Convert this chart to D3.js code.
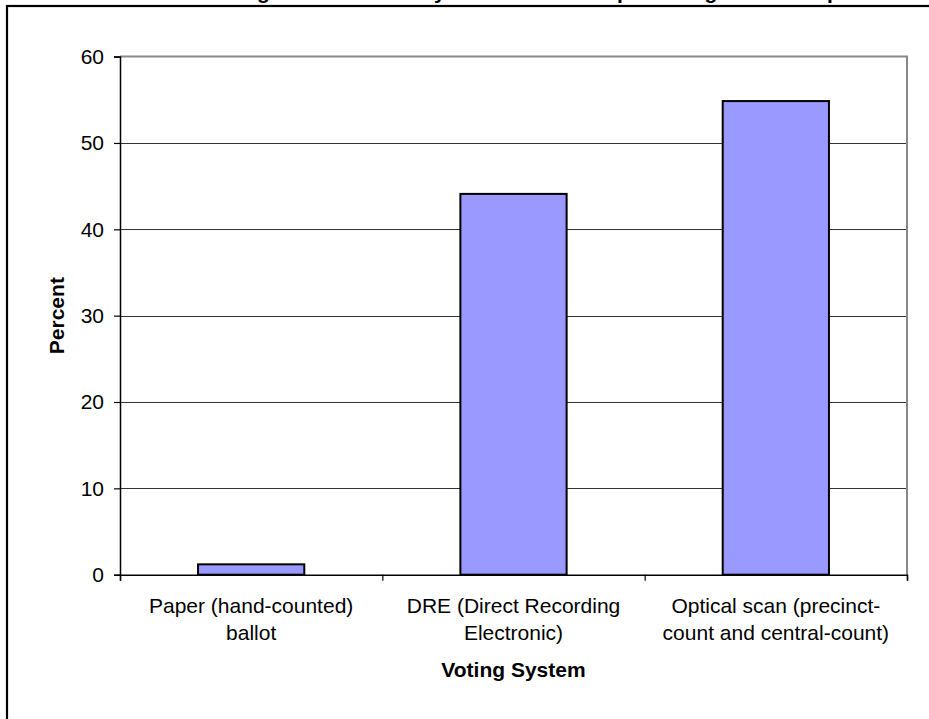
<!DOCTYPE html>
<html>
<head>
<meta charset="utf-8">
<script src="https://cdn.jsdelivr.net/npm/d3@7"></script>
<style>
  html, body { margin: 0; padding: 0; background: #fff; }
  svg { display: block; font-family: Arial, "Liberation Sans", sans-serif; }
</style>
</head>
<body>
<svg id="chart" width="929" height="719"></svg>
<script>
// Share of voting systems in use, in percent
const categories = ["paper", "dre", "optical"];
const categoryLines = [
  ["Paper (hand-counted)", "ballot"],
  ["DRE (Direct Recording", "Electronic)"],
  ["Optical scan (precinct-", "count and central-count)"]
];
const percentValues = [1.2, 44.1, 54.85];
const yTickValues = [0, 10, 20, 30, 40, 50, 60];

// Title pieces; each piece starts at its own anchor so the line is spaced evenly
const titleParts = ["Chart 3. Voting Tools Used", " by Counties as a", " percentage of all the precincts"];
const titleAnchorChar = ["g", "y", "p"];
const titleAnchorX = [257, 434, 617];
const titleSize = 21;

const yAxisTitle = "Percent";
const xAxisTitle = "Voting System";

const svg = d3.select("#chart");
const width = 929, height = 719;
const plot = { left: 120, right: 907, top: 56.6, bottom: 574.7 };
const fontSize = 21;

svg.append("rect").attr("width", width).attr("height", height).attr("fill", "#fff");

// Chart title, set above the frame so only its lowest strokes show
const title = svg.append("text")
  .attr("y", -0.6)
  .attr("font-size", titleSize)
  .attr("font-weight", "bold")
  .attr("fill", "#000");
const measure = svg.append("text")
  .attr("font-size", titleSize).attr("font-weight", "bold").attr("visibility", "hidden");
titleParts.forEach((part, i) => {
  const k = part.indexOf(titleAnchorChar[i]);
  measure.text(part.slice(0, k).replace(/ /g, "\u00a0"));
  const w = k > 0 ? measure.node().getComputedTextLength() : 0;
  title.append("tspan").attr("x", titleAnchorX[i] - w).text(part);
});
measure.remove();

// Outer frame of the chart area
svg.append("rect")
  .attr("x", 7).attr("y", 6)
  .attr("width", 1000).attr("height", 1000)
  .attr("fill", "none").attr("stroke", "#000").attr("stroke-width", 2.2);

const y = d3.scaleLinear().domain([0, 60]).range([plot.bottom, plot.top]);
const x = d3.scaleBand().domain(categories)
  .range([plot.left, plot.right])
  .paddingInner(0.595).paddingOuter(0.2975);
const xEdges = d3.scaleLinear().domain([0, categories.length]).range([plot.left, plot.right]);

// Horizontal gridlines
svg.append("g")
  .selectAll("line")
  .data(yTickValues.filter(v => v > 0 && v < 60))
  .join("line")
  .attr("x1", plot.left).attr("x2", plot.right)
  .attr("y1", d => Math.round(y(d)) + 0.5).attr("y2", d => Math.round(y(d)) + 0.5)
  .attr("stroke", "#333").attr("stroke-width", 1);

// Plot area border (top and right)
svg.append("path")
  .attr("d", `M${plot.left},${y(60)}H${plot.right}V${plot.bottom}`)
  .attr("fill", "none").attr("stroke", "#888").attr("stroke-width", 2);

// Bars
svg.append("g")
  .selectAll("rect")
  .data(categories)
  .join("rect")
  .attr("x", d => x(d))
  .attr("width", x.bandwidth())
  .attr("y", (d, i) => y(percentValues[i]))
  .attr("height", (d, i) => y(0) - y(percentValues[i]))
  .attr("fill", "#9999FF")
  .attr("stroke", "#000").attr("stroke-width", 2);

// Y axis
const yAxis = svg.append("g")
  .attr("transform", `translate(${plot.left},0)`)
  .call(d3.axisLeft(y).tickValues(yTickValues).tickSize(6).tickPadding(10).tickFormat(d3.format("d")));
yAxis.select(".domain").attr("stroke", "#000").attr("stroke-width", 1.5);
yAxis.selectAll(".tick line").attr("stroke", "#000").attr("stroke-width", 1.2);
yAxis.selectAll(".tick text")
  .attr("font-size", fontSize).attr("font-family", "Arial, 'Liberation Sans', sans-serif")
  .attr("fill", "#000");

// X axis with tick marks on category boundaries
const xAxis = svg.append("g")
  .attr("transform", `translate(0,${plot.bottom})`)
  .call(d3.axisBottom(xEdges).tickValues(d3.range(categories.length + 1)).tickSize(6).tickFormat(""));
xAxis.select(".domain").attr("stroke", "#000").attr("stroke-width", 1.5);
xAxis.selectAll(".tick line").attr("stroke", "#000").attr("stroke-width", 1.2);

// Category labels, two lines each
const labels = svg.append("g")
  .attr("font-size", fontSize).attr("fill", "#000").attr("text-anchor", "middle");
categories.forEach((c, i) => {
  const cx = x(c) + x.bandwidth() / 2;
  categoryLines[i].forEach((line, j) => {
    labels.append("text")
      .attr("x", cx).attr("y", 613.3 + j * 26.7)
      .text(line);
  });
});

// Axis titles
svg.append("text")
  .attr("x", (plot.left + plot.right) / 2).attr("y", 677)
  .attr("text-anchor", "middle").attr("font-size", fontSize).attr("font-weight", "bold")
  .text(xAxisTitle);

svg.append("text")
  .attr("transform", `translate(64,${(plot.top + plot.bottom) / 2}) rotate(-90)`)
  .attr("text-anchor", "middle").attr("font-size", fontSize).attr("font-weight", "bold")
  .text(yAxisTitle);
</script>
</body>
</html>
